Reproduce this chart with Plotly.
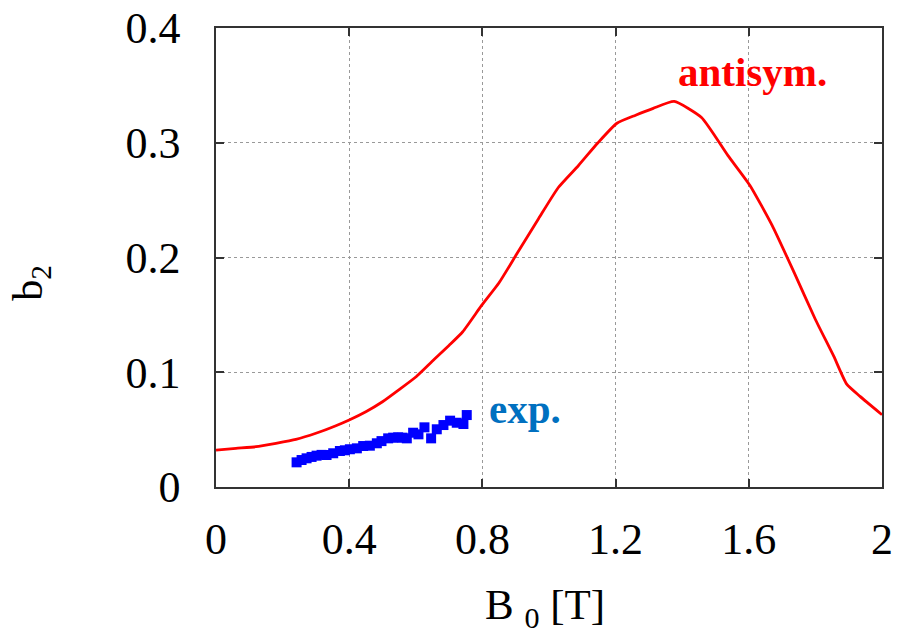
import plotly.graph_objects as go

# red "antisym." curve
antisym_x = [0.0, 0.06, 0.12, 0.18, 0.24, 0.30, 0.36, 0.40, 0.45, 0.50, 0.551, 0.601, 0.651,
             0.701, 0.741, 0.797, 0.85, 0.903, 0.969, 1.028, 1.088, 1.147, 1.204, 1.26,
             1.313, 1.376, 1.458, 1.537, 1.603, 1.67, 1.736, 1.80, 1.855, 1.894, 1.934, 2.0]
antisym_y = [0.0322, 0.0337, 0.0351, 0.0381, 0.0415, 0.0468, 0.0534, 0.0584, 0.0656, 0.0743,
             0.0851, 0.0961, 0.110, 0.1237, 0.1353, 0.158, 0.178, 0.203, 0.234, 0.261, 0.280,
             0.300, 0.317, 0.324, 0.330, 0.336, 0.322, 0.289, 0.263, 0.228, 0.187, 0.146,
             0.114, 0.0896, 0.079, 0.063]

# blue experimental points
exp_x = [0.242, 0.257, 0.272, 0.287, 0.302, 0.317, 0.332, 0.352, 0.372, 0.387, 0.402, 0.423,
         0.442, 0.462, 0.483, 0.497, 0.517, 0.532, 0.547, 0.560, 0.573, 0.592, 0.608, 0.626,
         0.646, 0.663, 0.683, 0.703, 0.723, 0.743, 0.753]
exp_y = [0.0215, 0.0235, 0.0250, 0.0262, 0.0273, 0.0280, 0.0279, 0.0294, 0.0314, 0.0320, 0.0329, 0.0337,
         0.0357, 0.0360, 0.0381, 0.0400, 0.0424, 0.0430, 0.0433, 0.0430, 0.0424, 0.0473, 0.0459, 0.0520,
         0.0424, 0.0503, 0.0540, 0.0578, 0.0560, 0.0549, 0.0627]

x_ticks = [0, 0.4, 0.8, 1.2, 1.6, 2]
x_ticktext = ["0", "0.4", "0.8", "1.2", "1.6", "2"]
y_ticks = [0, 0.1, 0.2, 0.3, 0.4]
y_ticktext = ["0", "0.1", "0.2", "0.3", "0.4"]

FONT = "Liberation Serif"

fig = go.Figure()
fig.add_trace(go.Scatter(x=antisym_x, y=antisym_y, mode="lines",
                         line=dict(color="#FF0000", width=2.8, shape="spline", smoothing=0.5),
                         showlegend=False))
fig.add_trace(go.Scatter(x=exp_x, y=exp_y, mode="markers",
                         marker=dict(color="#0000FF", symbol="square", size=10, line=dict(width=0)),
                         showlegend=False))

axis_common = dict(showline=True, linecolor="#333333", linewidth=1.5, mirror="ticks",
                   ticks="inside", ticklen=8, tickcolor="#333333", tickwidth=1.5,
                   showgrid=True, gridcolor="#999999", griddash="dot", gridwidth=1,
                   zeroline=False, automargin=False,
                   tickfont=dict(family=FONT, size=44, color="#000000"))

fig.update_xaxes(range=[0, 2], tickvals=x_ticks, ticktext=x_ticktext, ticklabelstandoff=12,
                 **axis_common)
fig.update_yaxes(range=[0, 0.4], tickvals=y_ticks, ticktext=y_ticktext, ticklabelstandoff=25,
                 **axis_common)

fig.add_annotation(x=1.61, y=0.362, xref="x", yref="y", text="<b>antisym.</b>", showarrow=False,
                   font=dict(family=FONT, size=41, color="#FF0000"), xanchor="center", yanchor="middle")
fig.add_annotation(x=0.928, y=0.068, xref="x", yref="y", text="<b>exp.</b>", showarrow=False,
                   font=dict(family=FONT, size=41, color="#0070C0"), xanchor="center", yanchor="middle")
fig.add_annotation(x=-0.277, y=0.444, xref="paper", yref="paper", text="b<sub>2</sub>", showarrow=False,
                   textangle=-90, font=dict(family=FONT, size=42, color="#000000"),
                   xanchor="center", yanchor="middle")
fig.add_annotation(x=0.494, y=-0.263, xref="paper", yref="paper",
                   text="B&nbsp;<sub>0</sub>&nbsp;[T]", showarrow=False,
                   font=dict(family=FONT, size=43, color="#000000"), xanchor="center", yanchor="middle")

fig.update_layout(width=897, height=635, margin=dict(l=216, r=15, t=28, b=148),
                  paper_bgcolor="white", plot_bgcolor="white")

fig.write_html("out.html", config={"displayModeBar": False},
               post_script="document.body.style.margin='0';document.body.style.overflow='hidden';")
